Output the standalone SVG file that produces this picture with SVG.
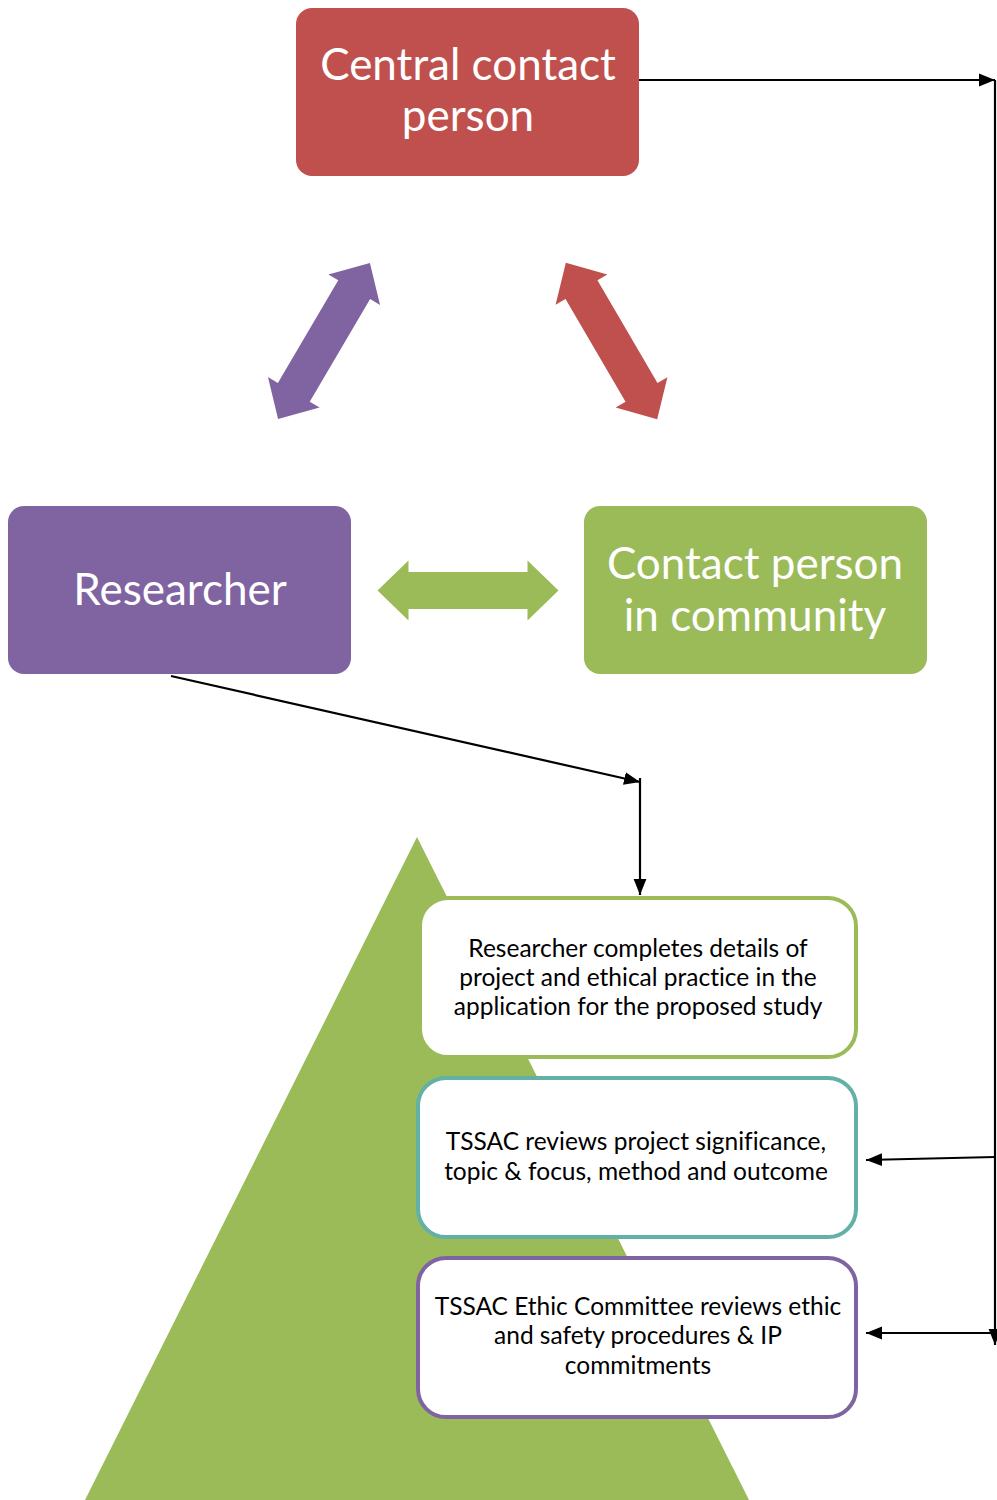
<svg xmlns="http://www.w3.org/2000/svg" width="997" height="1500" viewBox="0 0 997 1500">
  <defs>
    <marker id="headL" viewBox="0 0 10 10" refX="10" refY="5" markerWidth="16" markerHeight="16" markerUnits="userSpaceOnUse" orient="auto">
      <path d="M0,1 L10,5 L0,9 z" fill="#000"/>
    </marker>
    <!-- double-headed block arrow, centred on the origin, length 181 -->
    <polygon id="dbl" points="-90.5,0 -59.5,-30 -59.5,-18.5 59.5,-18.5 59.5,-30 90.5,0 59.5,30 59.5,18.5 -59.5,18.5 -59.5,30"/>
  </defs>
  <style>
    text { font-variant-ligatures: none; }
    .big { font-family: Lato, "Open Sans", sans-serif; fill: #fff; text-anchor: middle; font-size: 44px; }
    .small { font-family: Lato, "Open Sans", sans-serif; fill: #000; text-anchor: middle; font-size: 24.5px; }
    .conn { stroke: #000; stroke-width: 2.2; fill: none; }
    .step { fill: #fff; stroke-width: 4; }
  </style>

  <rect width="997" height="1500" fill="#fff"/>

  <!-- base triangle -->
  <polygon points="417,837 85,1500 749,1500" fill="#9BBB59"/>

  <g id="central-contact">
    <rect x="296" y="8" width="343" height="168" rx="16" fill="#C0504D"/>
    <text class="big" x="468" y="80">Central contact</text>
    <text class="big" x="468" y="131">person</text>
  </g>

  <g id="researcher">
    <rect x="8" y="506" width="343" height="168" rx="16" fill="#8064A2"/>
    <text class="big" x="180" y="605">Researcher</text>
  </g>

  <g id="community-contact">
    <rect x="584" y="506" width="343" height="168" rx="16" fill="#9BBB59"/>
    <text class="big" x="755" y="579">Contact person</text>
    <text class="big" x="755" y="631">in community</text>
  </g>

  <g id="links">
    <use href="#dbl" fill="#8064A2" transform="translate(324,341) rotate(120.5)"/>
    <use href="#dbl" fill="#C0504D" transform="translate(611.5,341) rotate(59.7)"/>
    <use href="#dbl" fill="#9BBB59" transform="translate(468,590.5)"/>
  </g>

  <g id="step-application">
    <rect class="step" x="420" y="898" width="436" height="159" rx="28" stroke="#9BBB59"/>
    <text class="small" x="638" y="957">Researcher completes details of</text>
    <text class="small" x="638" y="986">project and ethical practice in the</text>
    <text class="small" x="638" y="1015">application for the proposed study</text>
  </g>

  <g id="step-tssac">
    <rect class="step" x="418" y="1078" width="438" height="159" rx="28" stroke="#62B0A6"/>
    <text class="small" x="636" y="1150">TSSAC reviews project significance,</text>
    <text class="small" x="636" y="1180">topic &amp; focus, method and outcome</text>
  </g>

  <g id="step-ethics">
    <rect class="step" x="418" y="1258" width="438" height="159" rx="28" stroke="#8064A2"/>
    <text class="small" x="638" y="1315">TSSAC Ethic Committee reviews ethic</text>
    <text class="small" x="638" y="1344">and safety procedures &amp; IP</text>
    <text class="small" x="638" y="1374">commitments</text>
  </g>

  <g id="connectors">
    <line class="conn" x1="639" y1="80" x2="995" y2="80" marker-end="url(#headL)"/>
    <line class="conn" x1="995" y1="80" x2="995" y2="1345" marker-end="url(#headL)"/>
    <line class="conn" x1="995" y1="1157" x2="866" y2="1160" marker-end="url(#headL)"/>
    <line class="conn" x1="995" y1="1333" x2="866" y2="1333" marker-end="url(#headL)"/>
    <line class="conn" x1="171" y1="676" x2="640" y2="782" marker-end="url(#headL)"/>
    <line class="conn" x1="640" y1="778" x2="640" y2="895" marker-end="url(#headL)"/>
  </g>
</svg>
